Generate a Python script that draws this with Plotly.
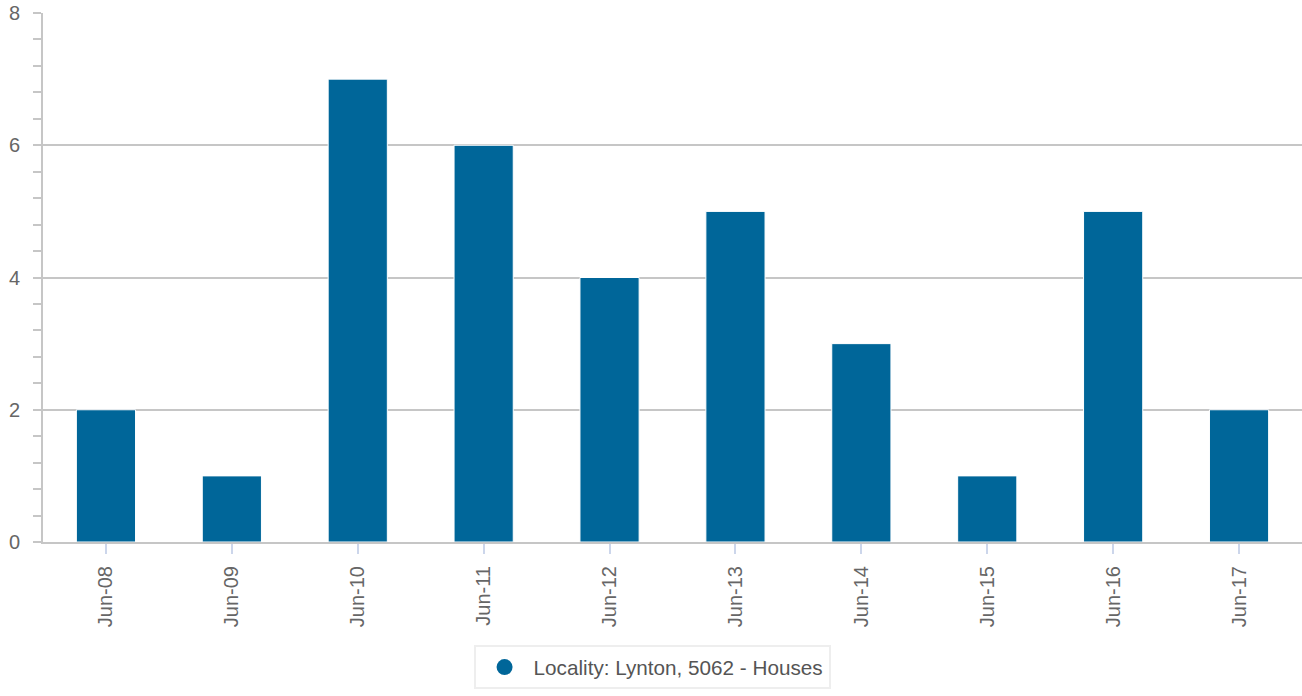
import plotly.graph_objects as go

categories = ["Jun-08", "Jun-09", "Jun-10", "Jun-11", "Jun-12", "Jun-13", "Jun-14", "Jun-15", "Jun-16", "Jun-17"]
values = [2, 1, 7, 6, 4, 5, 3, 1, 5, 2]
series_name = "Locality: Lynton, 5062 - Houses"
bar_color = "#006699"

fig = go.Figure()
fig.add_trace(go.Bar(
    x=categories, y=values, name=series_name, width=0.47,
    marker=dict(color=bar_color, line=dict(color="#ffffff", width=1)),
    showlegend=False,
))
fig.add_trace(go.Scatter(
    x=[None], y=[None], mode="markers", name=series_name,
    marker=dict(symbol="circle", size=20, color=bar_color),
    showlegend=True,
))

fig.update_layout(
    width=1302, height=696,
    margin=dict(l=43, r=0, t=13, b=154, autoexpand=False),
    paper_bgcolor="white", plot_bgcolor="white",
    font=dict(family="Liberation Sans, Arial, sans-serif", color="#666666"),
    legend=dict(
        orientation="h", x=0.342, xanchor="left", y=-0.195, yanchor="top",
        bordercolor="#eeeeee", borderwidth=2, bgcolor="white",
        font=dict(size=20.7, color="#555555"), itemwidth=48,
    ),
    xaxis=dict(
        type="category", tickangle=-90, tickfont=dict(size=20, color="#666666"),
        ticks="outside", ticklen=10, tickcolor="#ccd6eb", tickwidth=1.5,
        ticklabelstandoff=4,
        showline=True, linecolor="#c6c6c6", linewidth=2, showgrid=False,
        range=[-0.5, 9.5], automargin=False,
    ),
    yaxis=dict(
        range=[0, 8], tickvals=[0, 2, 4, 6, 8], tickfont=dict(size=20, color="#666666"),
        ticks="outside", ticklen=8, tickcolor="#c6c6c6", tickwidth=2,
        ticklabelstandoff=9,
        showline=True, linecolor="#c6c6c6", linewidth=2,
        showgrid=True, gridcolor="#c6c6c6", gridwidth=1.5,
        zeroline=False, automargin=False,
        minor=dict(dtick=0.4, ticks="outside", ticklen=8, tickcolor="#c6c6c6", tickwidth=2, showgrid=False),
    ),
)

fig.write_html(
    "out.html",
    config={"responsive": False, "displayModeBar": False},
    post_script="document.body.style.margin='0';document.body.style.overflow='hidden';",
)
